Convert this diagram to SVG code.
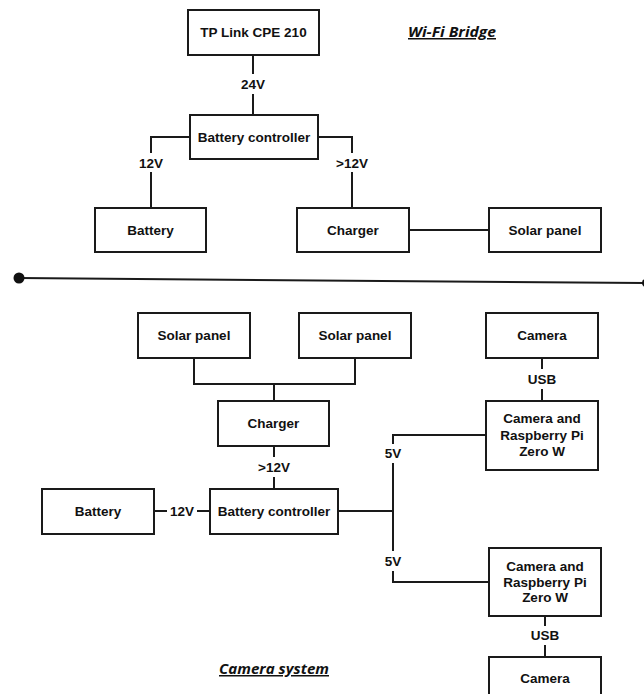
<svg xmlns="http://www.w3.org/2000/svg" width="644" height="694" viewBox="0 0 644 694">
  <style>
    .box { fill: #ffffff; stroke: #1a1a1a; stroke-width: 2; }
    .wire { fill: none; stroke: #1a1a1a; stroke-width: 2; }
    .lbl { font-family: "Liberation Sans", Arial, sans-serif; font-weight: bold; font-size: 13.5px; fill: #111; text-anchor: middle; dominant-baseline: central; }
    .title { font-family: "Open Sans", "Liberation Sans", sans-serif; font-weight: bold; font-style: italic; font-size: 15px; fill: #111; text-decoration: underline; }
  </style>
  <rect width="644" height="694" fill="#ffffff"/>

  <!-- Wi-Fi bridge section -->
  <g id="tplink"><rect class="box" x="188" y="10" width="131" height="45"/><text class="lbl" x="253.5" y="32">TP Link CPE 210</text></g>
  <g id="bridge-controller"><rect class="box" x="190" y="115" width="128" height="44"/><text class="lbl" x="254" y="137">Battery controller</text></g>
  <g id="bridge-battery"><rect class="box" x="95" y="208" width="111" height="44"/><text class="lbl" x="150.5" y="230">Battery</text></g>
  <g id="bridge-charger"><rect class="box" x="297" y="208" width="112" height="44"/><text class="lbl" x="353" y="230">Charger</text></g>
  <g id="bridge-solar"><rect class="box" x="489" y="208" width="112" height="44"/><text class="lbl" x="545" y="230">Solar panel</text></g>
  <text class="title" x="408" y="37" textLength="88" lengthAdjust="spacingAndGlyphs">Wi-Fi Bridge</text>

  <!-- Divider -->
  <g id="divider">
    <line class="wire" x1="19" y1="278" x2="644" y2="283"/>
    <circle cx="19" cy="278" r="5.5" fill="#111"/>
    <circle cx="646" cy="283" r="4" fill="#111"/>
  </g>

  <!-- Camera system section -->
  <g id="cam-solar1"><rect class="box" x="138" y="313" width="112" height="45"/><text class="lbl" x="194" y="335.5">Solar panel</text></g>
  <g id="cam-solar2"><rect class="box" x="299" y="313" width="112" height="45"/><text class="lbl" x="355" y="335.5">Solar panel</text></g>
  <g id="cam-top"><rect class="box" x="486" y="313" width="112" height="45"/><text class="lbl" x="542" y="335.5">Camera</text></g>
  <g id="cam-charger"><rect class="box" x="218" y="401" width="111" height="45"/><text class="lbl" x="273.5" y="423">Charger</text></g>
  <g id="rpi-top"><rect class="box" x="486" y="401" width="112" height="69"/>
    <text class="lbl" x="542" y="418">Camera and</text><text class="lbl" x="542" y="435">Raspberry Pi</text><text class="lbl" x="542" y="451">Zero W</text></g>
  <g id="cam-battery"><rect class="box" x="42" y="489" width="112" height="45"/><text class="lbl" x="98" y="511">Battery</text></g>
  <g id="cam-controller"><rect class="box" x="210" y="489" width="128" height="45"/><text class="lbl" x="274" y="511">Battery controller</text></g>
  <g id="rpi-bottom"><rect class="box" x="489" y="548" width="112" height="68"/>
    <text class="lbl" x="545" y="566">Camera and</text><text class="lbl" x="545" y="582.5">Raspberry Pi</text><text class="lbl" x="545" y="597.5">Zero W</text></g>
  <g id="cam-bottom"><rect class="box" x="489" y="657" width="112" height="45"/><text class="lbl" x="545" y="678">Camera</text></g>
  <text class="title" x="219" y="674" textLength="110" lengthAdjust="spacingAndGlyphs">Camera system</text>

  <!-- Connectors -->
  <g id="connectors">
    <path class="wire" d="M253 55V74M253 94V115"/>
    <path class="wire" d="M190 137H151V153M151 172V208"/>
    <path class="wire" d="M318 137H352V153M352 172V208"/>
    <path class="wire" d="M409 230H489"/>
    <path class="wire" d="M194 358V384H355V358M274 384V401"/>
    <path class="wire" d="M274 446V457M274 477V489"/>
    <path class="wire" d="M154 511H167M197 511H210"/>
    <path class="wire" d="M338 511H393"/>
    <path class="wire" d="M486 435H393V444M393 463V551M393 571V582H489"/>
    <path class="wire" d="M542 358V369M542 389V401"/>
    <path class="wire" d="M545 616V626M545 645V657"/>
  </g>
  <g id="connector-labels">
    <text class="lbl" x="253" y="84">24V</text>
    <text class="lbl" x="151" y="163">12V</text>
    <text class="lbl" x="352" y="163">&gt;12V</text>
    <text class="lbl" x="274" y="467">&gt;12V</text>
    <text class="lbl" x="182" y="511">12V</text>
    <text class="lbl" x="393" y="453.5">5V</text>
    <text class="lbl" x="393" y="561">5V</text>
    <text class="lbl" x="542" y="379">USB</text>
    <text class="lbl" x="545" y="635.5">USB</text>
  </g>
</svg>
